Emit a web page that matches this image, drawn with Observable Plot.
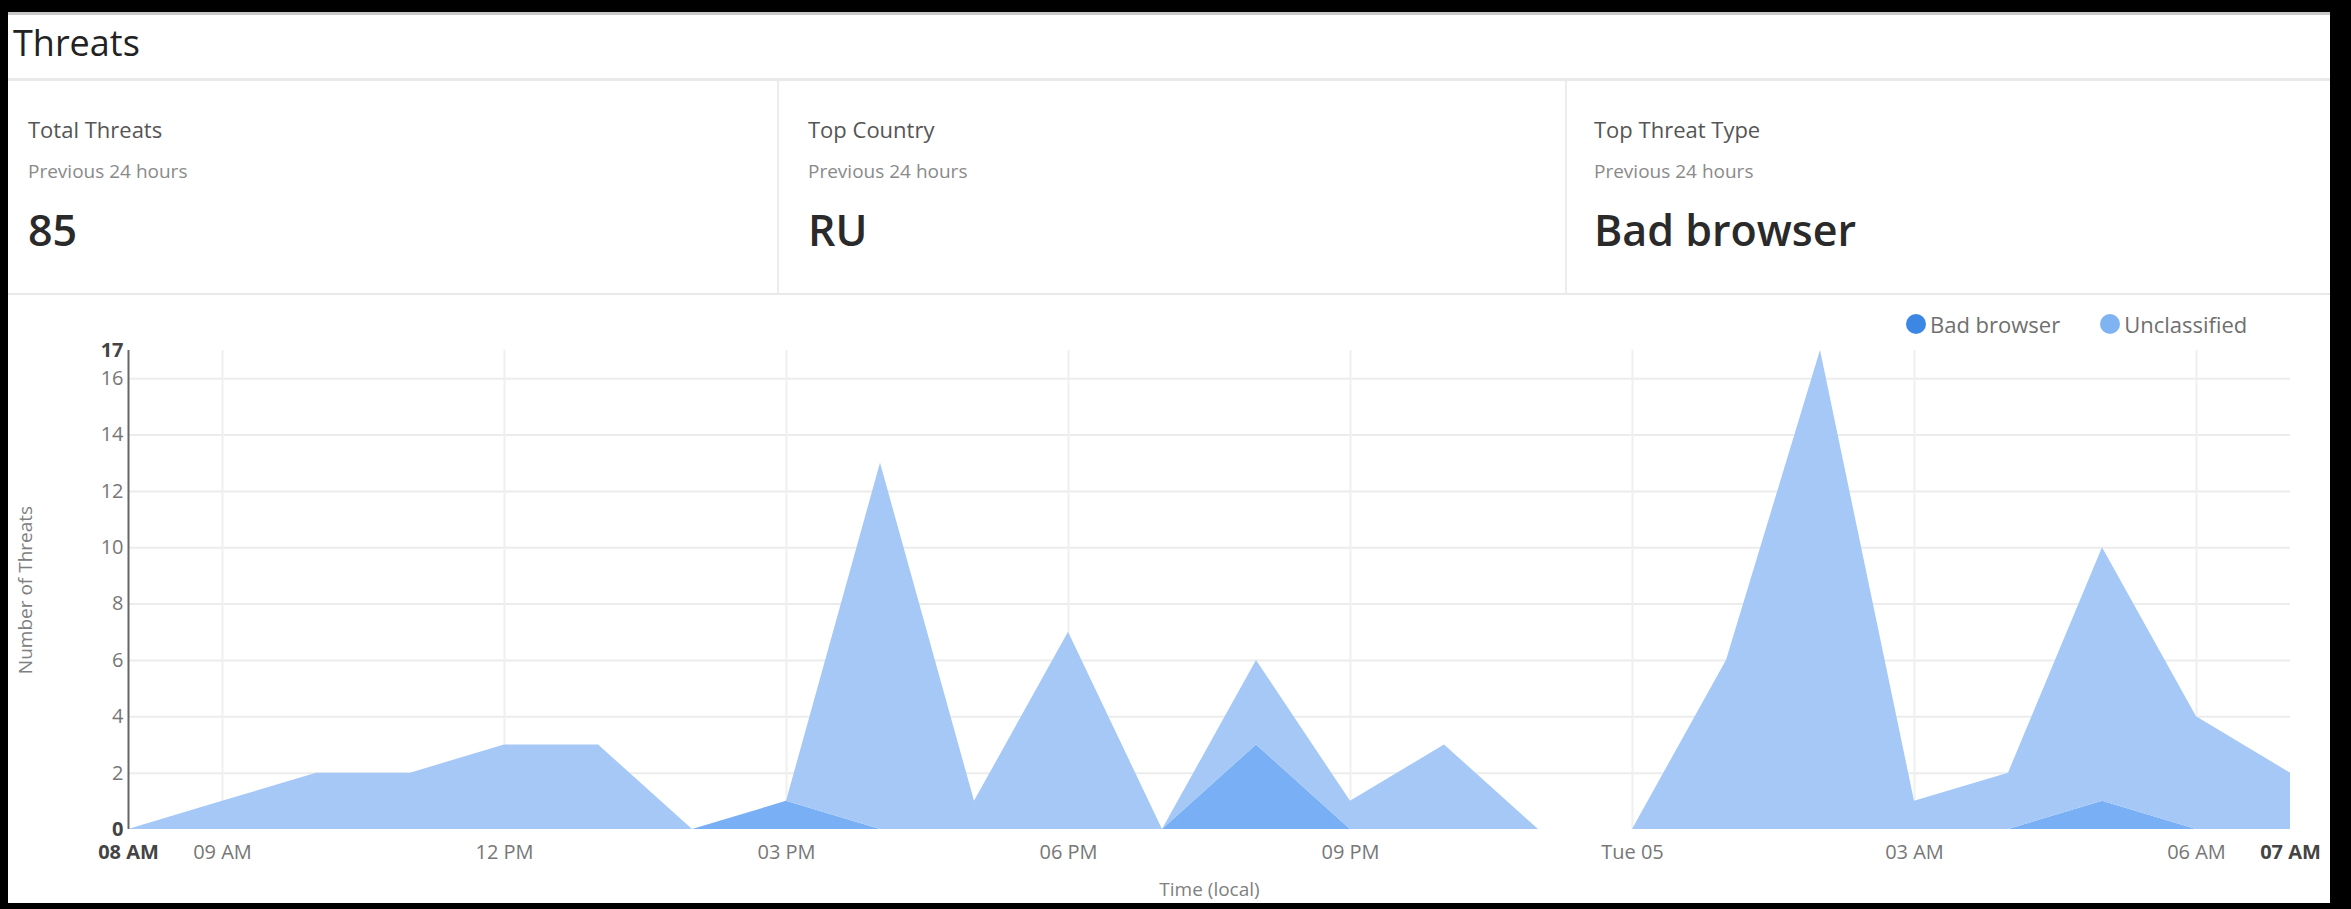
<!DOCTYPE html>
<html>
<head>
<meta charset="utf-8">
<script src="https://cdn.jsdelivr.net/npm/d3@7"></script>
<script src="https://cdn.jsdelivr.net/npm/@observablehq/plot@0.6"></script>
<style>
  html, body { margin: 0; padding: 0; width: 2351px; height: 909px; overflow: hidden; background: #000; font-family: "Open Sans", sans-serif; }
  #panel { position: absolute; left: 8px; top: 12px; width: 2322px; height: 891px; background: #fff; border-top: 3px solid #c8c8c8; box-sizing: border-box; }
  #title { position: absolute; left: 5px; top: 6px; font-size: 36px; line-height: 44px; color: #222; }
  .hline { position: absolute; left: 0; width: 100%; background: #e9e9e9; }
  .vline { position: absolute; width: 2px; background: #ececec; }
  .card { position: absolute; top: 0; }
  .card .label { position: absolute; left: 0; top: 103px; font-size: 22px; line-height: 22px; color: #555; white-space: nowrap; }
  .card .sub { position: absolute; left: 0; top: 147px; font-size: 19px; line-height: 19px; color: #8a8a8a; white-space: nowrap; }
  .card .value { position: absolute; left: 0; top: 193px; font-size: 43px; line-height: 43px; font-weight: 600; color: #2a2a2a; white-space: nowrap; }
  #legend { position: absolute; top: 294px; left: 1898px; display: flex; align-items: center; font-size: 22px; color: #6f6f6f; white-space: nowrap; }
  #legend .item { display: flex; align-items: center; margin-right: 40px; }
  #legend .dot { width: 20px; height: 20px; border-radius: 50%; margin-right: 4px; }
  #chart { position: absolute; left: 0; top: 280px; }
</style>
</head>
<body>
<div id="panel">
  <div id="title">Threats</div>
  <div class="hline" style="top:63px;height:3px"></div>
  <div id="cards"></div>
  <div class="hline" style="top:278px;height:2px"></div>
  <div id="legend"></div>
  <div id="chart"></div>
</div>
<script>
// Summary cards
const cardLabels = ["Total Threats", "Top Country", "Top Threat Type"];
const cardPeriods = ["Previous 24 hours", "Previous 24 hours", "Previous 24 hours"];
const cardValues = ["85", "RU", "Bad browser"];

// Hourly threat counts, 08 AM Mon 4 to 07 AM Tue 5
const seriesNames = ["Bad browser", "Unclassified"];
const times = [
  "2019-03-04T08:00Z", "2019-03-04T09:00Z", "2019-03-04T10:00Z", "2019-03-04T11:00Z",
  "2019-03-04T12:00Z", "2019-03-04T13:00Z", "2019-03-04T14:00Z", "2019-03-04T15:00Z",
  "2019-03-04T16:00Z", "2019-03-04T17:00Z", "2019-03-04T18:00Z", "2019-03-04T19:00Z",
  "2019-03-04T20:00Z", "2019-03-04T21:00Z", "2019-03-04T22:00Z", "2019-03-04T23:00Z",
  "2019-03-05T00:00Z", "2019-03-05T01:00Z", "2019-03-05T02:00Z", "2019-03-05T03:00Z",
  "2019-03-05T04:00Z", "2019-03-05T05:00Z", "2019-03-05T06:00Z", "2019-03-05T07:00Z"
];
const badBrowser   = [0, 0, 0, 0, 0, 0, 0, 1, 0, 0, 0, 0, 3, 0, 0, 0, 0, 0, 0, 0, 0, 1, 0, 0];
const unclassified = [0, 1, 2, 2, 3, 3, 0, 0, 13, 1, 7, 0, 3, 1, 3, 0, 0, 6, 17, 1, 2, 9, 4, 2];

// Axis ticks
const yTicks = [0, 2, 4, 6, 8, 10, 12, 14, 16, 17];
const yGrid = [2, 4, 6, 8, 10, 12, 14, 16];
const xTickTimes = [
  "2019-03-04T08:00Z", "2019-03-04T09:00Z", "2019-03-04T12:00Z", "2019-03-04T15:00Z",
  "2019-03-04T18:00Z", "2019-03-04T21:00Z", "2019-03-05T00:00Z", "2019-03-05T03:00Z",
  "2019-03-05T06:00Z", "2019-03-05T07:00Z"
];
const xTickLabels = ["08 AM", "09 AM", "12 PM", "03 PM", "06 PM", "09 PM", "Tue 05", "03 AM", "06 AM", "07 AM"];
const boldTickLabels = ["0", "17", "08 AM", "07 AM"];

// Colours
const areaColors = ["#79b0f5", "#a5c8f7"];
const legendColors = ["#3d87e4", "#80b3f1"];

// Cards
const cardX = [20, 800, 1586];
const cardsEl = document.getElementById("cards");
cardLabels.forEach((lab, i) => {
  const c = document.createElement("div");
  c.className = "card";
  c.style.left = cardX[i] + "px";
  c.innerHTML = `<div class="label">${lab}</div><div class="sub">${cardPeriods[i]}</div><div class="value">${cardValues[i]}</div>`;
  cardsEl.appendChild(c);
});
[769, 1557].forEach(x => {
  const v = document.createElement("div");
  v.className = "vline";
  v.style.left = x + "px";
  v.style.top = "66px";
  v.style.height = "212px";
  cardsEl.appendChild(v);
});

// Legend
const legendEl = document.getElementById("legend");
seriesNames.forEach((name, i) => {
  const it = document.createElement("div");
  it.className = "item";
  it.innerHTML = `<span class="dot" style="background:${legendColors[i]}"></span><span>${name}</span>`;
  legendEl.appendChild(it);
});

// Chart
const parse = s => new Date(s);
const rows = [];
times.forEach((t, i) => {
  rows.push({time: parse(t), type: seriesNames[0], count: badBrowser[i]});
  rows.push({time: parse(t), type: seriesNames[1], count: unclassified[i]});
});
const tickDates = xTickTimes.map(parse);
const labelByTime = new Map(tickDates.map((d, i) => [+d, xTickLabels[i]]));
const xGrid = tickDates.slice(1, -1);

const chart = Plot.plot({
  width: 2322,
  height: 608,
  marginLeft: 120,
  marginRight: 40,
  marginTop: 55,
  marginBottom: 74,
  style: {fontFamily: "Open Sans, sans-serif", fontSize: "20px", color: "#777", background: "transparent"},
  x: {type: "utc", domain: [parse(times[0]), parse(times[times.length - 1])]},
  y: {domain: [0, 17]},
  color: {domain: seriesNames, range: areaColors},
  marks: [
    Plot.ruleY(yGrid, {stroke: "#ececec", strokeWidth: 2}),
    Plot.ruleX(xGrid, {stroke: "#f0f0f0", strokeWidth: 2}),
    Plot.areaY(rows, {x: "time", y: "count", z: "type", fill: "type", order: seriesNames, curve: "linear"}),
    Plot.ruleX([parse(times[0])], {stroke: "#666", strokeWidth: 2}),
    Plot.axisY({
      ticks: yTicks, tickSize: 0, tickPadding: 5, tickFormat: d => String(d),
      label: "Number of Threats", labelAnchor: "center", labelArrow: "none", labelOffset: 110
    }),
    Plot.axisX({
      ticks: tickDates, tickSize: 0, tickPadding: 15, tickFormat: d => labelByTime.get(+d),
      label: "Time (local)", labelAnchor: "center", labelArrow: "none", labelOffset: 66
    })
  ]
});
document.getElementById("chart").appendChild(chart);

// Emphasise the extent labels of both axes
d3.select(chart).selectAll('g[aria-label$="tick label"] text').each(function() {
  const t = d3.select(this);
  if (boldTickLabels.includes(t.text())) t.attr("font-weight", "bold").attr("fill", "#444");
});
d3.select(chart).selectAll('g[aria-label$="axis label"] text').attr("font-size", "19px").attr("fill", "#808080");
</script>
</body>
</html>
